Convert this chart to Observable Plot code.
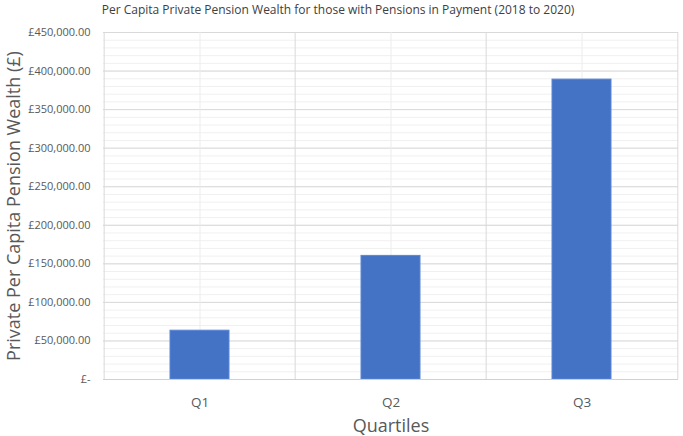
<!DOCTYPE html>
<html>
<head>
<meta charset="utf-8">
<script src="https://cdn.jsdelivr.net/npm/d3@7"></script>
<script src="https://cdn.jsdelivr.net/npm/@observablehq/plot@0.6"></script>
<style>
  html, body { margin: 0; padding: 0; background: #fff; }
  svg { display: block; }
</style>
</head>
<body>
<div id="chart"></div>
<script>
const categories = ["Q1", "Q2", "Q3"];
const values = [63300, 160300, 388900];
const majorTicks = [0, 50000, 100000, 150000, 200000, 250000, 300000, 350000, 400000, 450000];
const minorTicks = d3.range(0, 450001, 10000);
const title = "Per Capita Private Pension Wealth for those with Pensions in Payment (2018 to 2020)";
const yLabel = "Private Per Capita Pension Wealth (£)";
const xLabel = "Quartiles";

const data = categories.map((c, i) => ({category: c, value: values[i]}));

const W = 683, H = 436;
const ml = 103, mr = 5, mt = 32, mb = 57;
const step = (W - ml - mr) / categories.length;
const font = "'Open Sans', sans-serif";

const fmt = d => d === 0 ? "£-" : "£" + d3.format(",.2f")(d);

const chart = Plot.plot({
  width: W,
  height: H,
  marginLeft: ml,
  marginRight: mr,
  marginTop: mt,
  marginBottom: mb,
  style: {fontFamily: font, background: "#fff"},
  x: {domain: categories, paddingInner: 0.69, paddingOuter: 0.345, label: null},
  y: {domain: [0, 450000], label: null},
  marks: [
    Plot.ruleY(minorTicks, {stroke: "#f0f0f0", strokeWidth: 1}),
    Plot.ruleY(majorTicks, {stroke: "#d9d9d9", strokeWidth: 1}),
    Plot.ruleX(categories, {stroke: "#ececec", strokeWidth: 1}),
    Plot.ruleX(categories, {stroke: "#d9d9d9", strokeWidth: 1, dx: -step / 2}),
    Plot.ruleX(categories.slice(-1), {stroke: "#d9d9d9", strokeWidth: 1, dx: step / 2}),
    Plot.barY(data, {x: "category", y: "value", fill: "#4472C4", stroke: "#5a86d4", strokeWidth: 1}),
    Plot.ruleY([0], {stroke: "#d0d0d0", strokeWidth: 1}),
    Plot.axisY(majorTicks, {tickSize: 0, tickPadding: 13, tickFormat: fmt, fontSize: 11, fill: "#595959", label: null}),
    Plot.axisX({tickSize: 0, tickPadding: 18, fontSize: 13.5, fill: "#595959", label: null}),
    Plot.text([yLabel], {frameAnchor: "left", textAnchor: "middle", lineAnchor: "middle", dx: -89, rotate: -90, fontSize: 18, fill: "#595959"}),
    Plot.text([xLabel], {frameAnchor: "bottom", lineAnchor: "middle", dy: 47, fontSize: 18, fill: "#595959"}),
    Plot.text([title], {frameAnchor: "top", lineAnchor: "middle", dx: -53, dy: -22, fontSize: 12, fill: "#404040"})
  ]
});

document.getElementById("chart").appendChild(chart);
</script>
</body>
</html>
